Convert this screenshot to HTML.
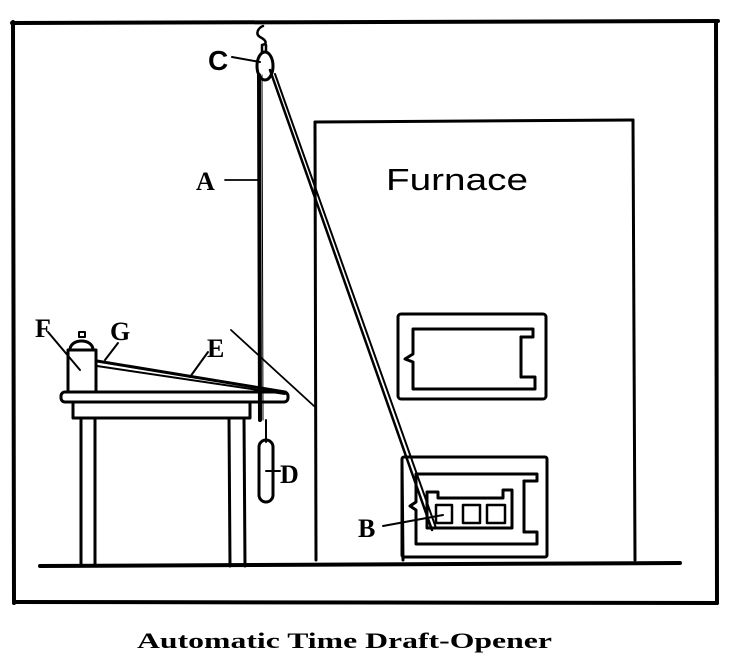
<!DOCTYPE html>
<html><head><meta charset="utf-8"><style>
html,body{margin:0;padding:0;background:#fff;}
svg{display:block;}
</style></head><body>
<svg width="731" height="666" viewBox="0 0 731 666" xmlns="http://www.w3.org/2000/svg">
<g fill="none" stroke="#000" stroke-linecap="round" stroke-linejoin="round">
<!-- frame -->
<line x1="12" y1="23" x2="718" y2="21" stroke-width="4"/>
<line x1="13" y1="22" x2="14" y2="603" stroke-width="4"/>
<line x1="716" y1="21" x2="717" y2="603" stroke-width="4"/>
<line x1="14" y1="602" x2="717" y2="603" stroke-width="4"/>
<!-- floor -->
<line x1="40" y1="566" x2="680" y2="563" stroke-width="4"/>
<!-- furnace -->
<line x1="315" y1="122" x2="633" y2="120" stroke-width="3"/>
<line x1="315" y1="122" x2="316" y2="560" stroke-width="3"/>
<line x1="633" y1="120" x2="635" y2="560" stroke-width="3"/>
<!-- upper door -->
<rect x="398" y="314" width="148" height="85" rx="3" stroke-width="3"/>
<path d="M413 329 H533 V337 H521 V377 H535 V389 H413 V362 L405 359 L413 354 Z" stroke-width="3"/>
<line x1="521" y1="337" x2="521" y2="377" stroke-width="3"/>
<!-- lower door -->
<rect x="402" y="457" width="145" height="100" rx="2" stroke-width="3"/>
<line x1="402" y1="461" x2="403" y2="560" stroke-width="3"/>
<path d="M416 474 H537 V481 H524 V532 H537 V544 H416 V510 L410 506 L416 502 Z" stroke-width="3"/>
<path d="M427 492 H438 V498 H503 V490 H512 V528 H427 Z" stroke-width="3"/>
<line x1="524" y1="481" x2="524" y2="532" stroke-width="3"/>
<rect x="436" y="505" width="16" height="18" stroke-width="2.5"/>
<rect x="463" y="505" width="17" height="18" stroke-width="2.5"/>
<rect x="487" y="505" width="18" height="18" stroke-width="2.5"/>
<!-- hook and pulley -->
<path d="M263 26 C258 28 255 34 260 37 C266 40 268 44 262 45 M262 45 V52 M266 45 V52" stroke-width="2.5"/>
<ellipse cx="265" cy="66" rx="8" ry="14" stroke-width="3"/>
<!-- rope A -->
<line x1="259" y1="75" x2="260" y2="420" stroke-width="4"/>
<line x1="262" y1="75" x2="263" y2="420" stroke-width="1"/>
<!-- diagonal rope to B -->
<line x1="270" y1="70" x2="432" y2="530" stroke-width="2.5"/>
<line x1="275" y1="74" x2="436" y2="528" stroke-width="2"/>
<!-- weight D -->
<rect x="259" y="440" width="14" height="62" rx="7" stroke-width="3"/>
<line x1="266" y1="420" x2="266" y2="442" stroke-width="2"/>
<line x1="266" y1="471" x2="280" y2="471" stroke-width="2"/>
<!-- table -->
<rect x="61" y="392" width="227" height="10" rx="4" stroke-width="3"/>
<rect x="73" y="402" width="177" height="16" stroke-width="3"/>
<line x1="81" y1="418" x2="81" y2="566" stroke-width="3"/>
<line x1="95" y1="418" x2="95" y2="566" stroke-width="3"/>
<line x1="229" y1="418" x2="230" y2="566" stroke-width="3"/>
<line x1="244" y1="418" x2="245" y2="566" stroke-width="3"/>
<!-- clock F -->
<rect x="68" y="350" width="28" height="42" stroke-width="3"/>
<path d="M70 350 C70 338 93 338 93 350 Z" stroke-width="3"/>
<rect x="79" y="332" width="6" height="5" stroke-width="2"/>
<!-- lever E -->
<line x1="97" y1="361" x2="285" y2="392" stroke-width="3"/>
<line x1="97" y1="366" x2="285" y2="394" stroke-width="2"/>
<!-- thin line -->
<line x1="231" y1="330" x2="314" y2="406" stroke-width="1.8"/>
<!-- leaders -->
<line x1="232" y1="57" x2="260" y2="62" stroke-width="2"/>
<line x1="225" y1="180" x2="258" y2="180" stroke-width="1.8"/>
<line x1="48" y1="332" x2="80" y2="370" stroke-width="2"/>
<line x1="118" y1="343" x2="105" y2="360" stroke-width="2"/>
<line x1="208" y1="352" x2="190" y2="377" stroke-width="2"/>
<line x1="383" y1="526" x2="443" y2="515" stroke-width="2"/>
</g>
<g font-family="Liberation Serif, serif" font-weight="bold" fill="#000">
<text x="208" y="70" font-family="Liberation Sans, sans-serif" font-size="28">C</text>
<text x="196" y="190" font-size="26">A</text>
<text x="35" y="337" font-size="26">F</text>
<text x="110" y="340" font-size="26">G</text>
<text x="207" y="357" font-size="26">E</text>
<text x="280" y="483" font-size="26">D</text>
<text x="358" y="537" font-size="26">B</text>
<text x="137" y="648" font-size="22" textLength="415" lengthAdjust="spacingAndGlyphs">Automatic  Time  Draft-Opener</text>
</g>
<text x="386" y="190" font-family="Liberation Sans, sans-serif" font-size="31" textLength="142" lengthAdjust="spacingAndGlyphs">Furnace</text>
</svg>
</body></html>
